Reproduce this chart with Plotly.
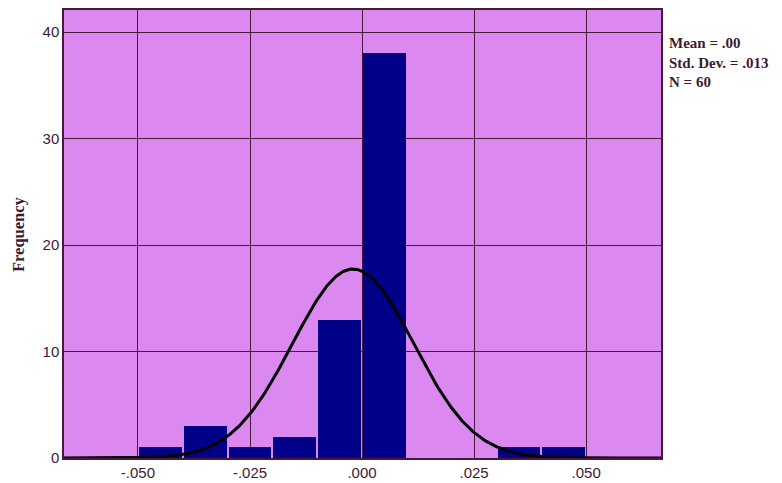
import numpy as np
import plotly.graph_objects as go

# Histogram data
bin_starts = [-0.05, -0.04, -0.03, -0.02, -0.01, 0.0, 0.03, 0.04]
counts = [1, 3, 1, 2, 13, 38, 1, 1]
bin_width = 0.01
n_total = 60
mean_val = -0.002
sd_val = 0.01349
x_ticks = [-0.05, -0.025, 0.0, 0.025, 0.05]
x_tick_labels = ["-.050", "-.025", ".000", ".025", ".050"]
y_ticks = [0, 10, 20, 30, 40]
stats_lines = ["Mean = .00", "Std. Dev. = .013", "N = 60"]

x_range = [-0.0665, 0.0667]
y_range = [0, 42.07]

centers = [s + bin_width / 2 for s in bin_starts]

xs = np.linspace(x_range[0], x_range[1], 400)
ys = n_total * bin_width / (sd_val * np.sqrt(2 * np.pi)) * np.exp(-0.5 * ((xs - mean_val) / sd_val) ** 2)

grid_col = "#4a1838"
text_col = "#3e1a30"

fig = go.Figure()
fig.add_trace(go.Bar(x=centers, y=counts, width=bin_width * 0.955,
                     marker=dict(color="#000088", line=dict(width=0)),
                     hoverinfo="skip"))
fig.add_trace(go.Scatter(x=xs, y=ys, mode="lines",
                         line=dict(color="black", width=3), hoverinfo="skip"))

fig.update_layout(
    width=782, height=483,
    margin=dict(l=64, r=121, t=10, b=25),
    paper_bgcolor="white",
    plot_bgcolor="#DB88F0",
    showlegend=False,
    bargap=0,
    xaxis=dict(range=x_range, tickvals=x_ticks, ticktext=x_tick_labels,
               showgrid=True, gridcolor=grid_col, gridwidth=1, automargin=False,
               zeroline=False, showline=True, linecolor=grid_col, linewidth=1.5,
               mirror=True, ticks="", ticklen=0,
               tickfont=dict(family="Liberation Sans, Arial", size=15, color=text_col)),
    yaxis=dict(range=y_range, tickvals=y_ticks, automargin=False,
               showgrid=True, gridcolor=grid_col, gridwidth=1,
               zeroline=False, showline=True, linecolor=grid_col, linewidth=1.5,
               mirror=True, ticks="", ticklen=0,
               tickfont=dict(family="Liberation Sans, Arial", size=15, color=text_col)),
)

fig.add_annotation(text="<b>Frequency</b>", textangle=-90, xref="paper", yref="paper",
                   x=-64/597 + 18/597, y=0.5, xanchor="center", yanchor="middle",
                   showarrow=False,
                   font=dict(family="Liberation Serif, Times New Roman", size=16.5, color=text_col))

fig.add_annotation(text="<br>".join("<b>" + s + "</b>" for s in stats_lines),
                   xref="paper", yref="paper", align="left",
                   x=(668 - 64) / 597, y=(458 - 62) / 448,
                   xanchor="left", yanchor="middle", showarrow=False, borderpad=0,
                   font=dict(family="Liberation Serif, Times New Roman", size=15, color=text_col))

fig.write_html("out.html", config={"displayModeBar": False},
               post_script="document.body.style.margin='0';")
